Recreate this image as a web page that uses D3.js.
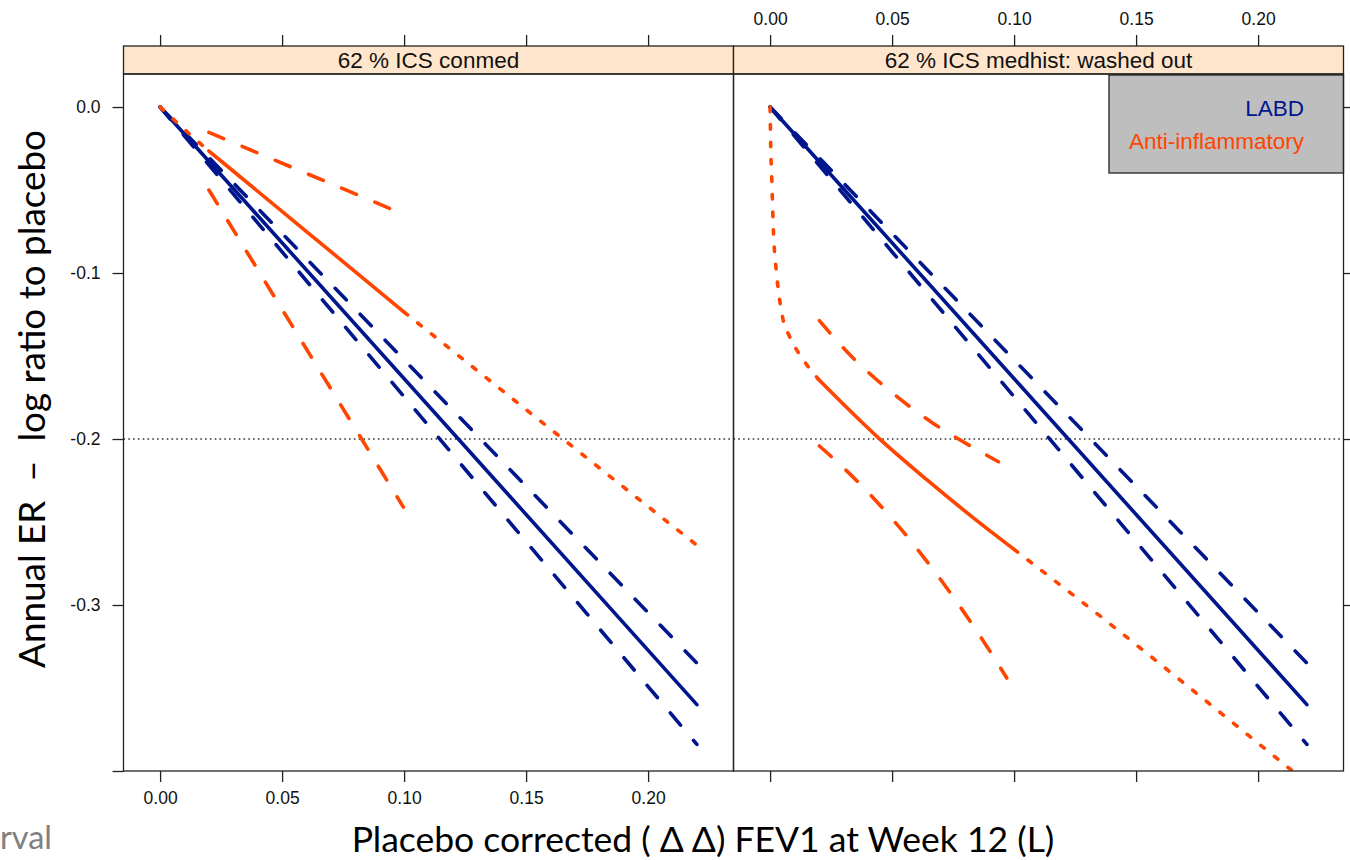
<!DOCTYPE html>
<html><head><meta charset="utf-8">
<script src="https://cdn.jsdelivr.net/npm/d3@7"></script>
<style>
body{margin:0;background:#fff;}
svg{display:block;}
</style></head><body>
<svg id="chart" width="1350" height="860"></svg>
<script>
// ---------------- data ----------------
const panelNames = ["62 % ICS conmed", "62 % ICS medhist: washed out"];
const xTicks = [0, 0.05, 0.10, 0.15, 0.20];
const xTickLabels = ["0.00", "0.05", "0.10", "0.15", "0.20"];
const yTicks = [0, -0.1, -0.2, -0.3];
const yTickLabels = ["0.0", "-0.1", "-0.2", "-0.3"];
const refY = -0.2;
const legendLabels = ["LABD", "Anti-inflammatory"];

// LABD (identical in both panels)
const labdX = [0, 0.22];
const labdFit = [0, -0.360];
const labdUpper = [0, -0.335];
const labdLower = [0, -0.384];

// Panel 1 - ICS conmed, anti-inflammatory
const conmedObsX = [0.02, 0.06, 0.10];
const conmedObsFit = [-0.0265, -0.075, -0.1235];
const conmedLowX = [0, 0.01, 0.02];
const conmedLowFit = [0, -0.0135, -0.0265];
const conmedHighX = [0.10, 0.16, 0.22];
const conmedHighFit = [-0.1235, -0.194, -0.264];
const conmedUpperX = [0.02, 0.094];
const conmedUpper = [-0.0153, -0.061];
const conmedLowerX = [0.02, 0.0997];
const conmedLower = [-0.050, -0.241];

// Panel 2 - ICS medhist washed out, anti-inflammatory
const washLowX = [0, 0.0002, 0.0007, 0.0014, 0.0025, 0.0041, 0.0053, 0.0079, 0.0116, 0.0157, 0.0198];
const washLowFit = [0, -0.020, -0.044, -0.076, -0.098, -0.118, -0.128, -0.138, -0.148, -0.1566, -0.164];
const washObsX = [0.0198, 0.0444, 0.0642, 0.0833, 0.10];
const washObsFit = [-0.164, -0.1993, -0.2245, -0.2475, -0.2665];
const washHighX = [0.10, 0.1407, 0.1687, 0.1967, 0.22];
const washHighFit = [-0.2665, -0.313, -0.346, -0.3793, -0.407];
const washUpperX = [0.0202, 0.0328, 0.043, 0.0546, 0.0663, 0.0779, 0.0936];
const washUpper = [-0.1287, -0.1494, -0.1634, -0.1775, -0.190, -0.2006, -0.2137];
const washLowerX = [0.0202, 0.0314, 0.0423, 0.0519, 0.0601, 0.0697, 0.0772, 0.0854, 0.097];
const washLower = [-0.2042, -0.2192, -0.2355, -0.2513, -0.2659, -0.2843, -0.2996, -0.3172, -0.344];

// ---------------- styles ----------------
const BLUE = "#00168c";
const ORANGE = "#ff4500";
const LW = 3.6;
const DASH = "16,20";
const DOT = "4.5,13";
const tickFont = "'Liberation Sans', Arial, Helvetica, sans-serif";
const titleFont = "Lato, 'Open Sans', sans-serif";

const zip = (xs, ys) => xs.map((x, i) => ({x, y: ys[i]}));

const panelSeries = [
  [
    {pts: zip(labdX, labdFit), color: BLUE, dash: null},
    {pts: zip(labdX, labdUpper), color: BLUE, dash: DASH},
    {pts: zip(labdX, labdLower), color: BLUE, dash: DASH},
    {pts: zip(conmedLowX, conmedLowFit), color: ORANGE, dash: DOT},
    {pts: zip(conmedObsX, conmedObsFit), color: ORANGE, dash: null},
    {pts: zip(conmedHighX, conmedHighFit), color: ORANGE, dash: DOT},
    {pts: zip(conmedUpperX, conmedUpper), color: ORANGE, dash: DASH},
    {pts: zip(conmedLowerX, conmedLower), color: ORANGE, dash: DASH}
  ],
  [
    {pts: zip(labdX, labdFit), color: BLUE, dash: null},
    {pts: zip(labdX, labdUpper), color: BLUE, dash: DASH},
    {pts: zip(labdX, labdLower), color: BLUE, dash: DASH},
    {pts: zip(washLowX, washLowFit), color: ORANGE, dash: DOT},
    {pts: zip(washObsX, washObsFit), color: ORANGE, dash: null},
    {pts: zip(washHighX, washHighFit), color: ORANGE, dash: DOT},
    {pts: zip(washUpperX, washUpper), color: ORANGE, dash: DASH},
    {pts: zip(washLowerX, washLower), color: ORANGE, dash: DASH}
  ]
];

// ---------------- layout ----------------
const svg = d3.select("#chart");
const panelLeft = [123.5, 733.5];
const panelW = 610;
const stripTop = 46, plotTop = 74, plotBottom = 771;
const xDomain = [-0.015, 0.235];
const yScale = d3.scaleLinear().domain([-0.4, 0.0199]).range([plotBottom, plotTop]);
const tickLen = 11;

const defs = svg.append("defs");

panelLeft.forEach((left, pi) => {
  const x = d3.scaleLinear().domain(xDomain).range([left, left + panelW]);
  const g = svg.append("g");

  defs.append("clipPath").attr("id", "clip" + pi)
    .append("rect").attr("x", left).attr("y", plotTop).attr("width", panelW).attr("height", plotBottom - plotTop);

  // strip
  g.append("rect").attr("x", left).attr("y", stripTop).attr("width", panelW).attr("height", plotTop - stripTop)
    .attr("fill", "#ffe5cc").attr("stroke", "#222").attr("stroke-width", 1.3);
  g.append("text").attr("x", left + panelW / 2).attr("y", 68)
    .attr("text-anchor", "middle").attr("font-family", tickFont).attr("font-size", 22.5)
    .attr("fill", "#111").text(panelNames[pi]);

  const plot = g.append("g").attr("clip-path", `url(#clip${pi})`);

  // reference line
  plot.append("line").attr("x1", left).attr("x2", left + panelW)
    .attr("y1", yScale(refY)).attr("y2", yScale(refY))
    .attr("stroke", "#333").attr("stroke-width", 1.3).attr("stroke-dasharray", "1.6,3.2");

  // series
  const line = d3.line().x(d => x(d.x)).y(d => yScale(d.y)).curve(d3.curveMonotoneX);
  panelSeries[pi].forEach(s => {
    plot.append("path").attr("d", line(s.pts)).attr("fill", "none")
      .attr("stroke", s.color).attr("stroke-width", LW)
      .attr("stroke-linecap", "round").attr("stroke-linejoin", "round")
      .attr("stroke-dasharray", s.dash);
  });

  // legend in panel 2
  if (pi === 1) {
    const lg = g.append("g");
    lg.append("rect").attr("x", 1109).attr("y", plotTop + 1).attr("width", left + panelW - 1109).attr("height", 98)
      .attr("fill", "#bebebe").attr("stroke", "#222").attr("stroke-width", 1.3);
    lg.selectAll("text").data(legendLabels).join("text")
      .attr("x", 1304).attr("y", (d, i) => 116 + i * 33)
      .attr("text-anchor", "end").attr("font-family", tickFont).attr("font-size", 22.5)
      .attr("fill", (d, i) => i === 0 ? BLUE : ORANGE).text(d => d);
  }

  // panel border
  g.append("rect").attr("x", left).attr("y", plotTop).attr("width", panelW).attr("height", plotBottom - plotTop)
    .attr("fill", "none").attr("stroke", "#222").attr("stroke-width", 1.3);

  // bottom axis ticks
  const bAxis = d3.axisBottom(x).tickValues(xTicks).tickSize(tickLen).tickPadding(10)
    .tickFormat((d, i) => pi === 0 ? xTickLabels[i] : "");
  const bg = svg.append("g").attr("transform", `translate(0,${plotBottom})`).call(bAxis);
  // top axis ticks
  const tAxis = d3.axisTop(x).tickValues(xTicks).tickSize(tickLen).tickPadding(10)
    .tickFormat((d, i) => pi === 1 ? xTickLabels[i] : "");
  const tg = svg.append("g").attr("transform", `translate(0,${stripTop})`).call(tAxis);
  [bg, tg].forEach(a => {
    a.select(".domain").remove();
    a.selectAll("line").attr("stroke", "#222").attr("stroke-width", 1.3);
    a.selectAll("text").attr("font-family", tickFont).attr("font-size", 17.5).attr("fill", "#111");
  });

  // y axis
  if (pi === 0) {
    const lAxis = d3.axisLeft(yScale).tickValues(yTicks.concat([-0.4])).tickSize(tickLen).tickPadding(12)
      .tickFormat(d => { const k = yTicks.indexOf(d); return k >= 0 ? yTickLabels[k] : ""; });
    const lg2 = svg.append("g").attr("transform", `translate(${left},0)`).call(lAxis);
    lg2.select(".domain").remove();
    lg2.selectAll("line").attr("stroke", "#222").attr("stroke-width", 1.3);
    lg2.selectAll("text").attr("font-family", tickFont).attr("font-size", 17.5).attr("fill", "#111");
  } else {
    const rAxis = d3.axisRight(yScale).tickValues(yTicks).tickSize(tickLen).tickFormat("");
    const rg = svg.append("g").attr("transform", `translate(${left + panelW},0)`).call(rAxis);
    rg.select(".domain").remove();
    rg.selectAll("line").attr("stroke", "#222").attr("stroke-width", 1.3);
  }
});

// ---------------- titles ----------------
function fitText(sel, target) {
  const len = sel.node().getComputedTextLength();
  const fs = parseFloat(sel.attr("font-size"));
  sel.attr("font-size", fs * target / len);
}

const xt = svg.append("text").attr("x", 703).attr("y", 852).attr("text-anchor", "middle")
  .attr("font-family", titleFont).attr("font-size", 34).attr("fill", "#000")
  .style("white-space", "pre")
  .text("Placebo corrected ( \u0394 \u0394) FEV1 at Week 12 (L)");
fitText(xt, 703);

const yt = svg.append("text").attr("transform", "translate(45,399) rotate(-90)").attr("text-anchor", "middle")
  .attr("font-family", titleFont).attr("font-size", 34).attr("fill", "#000")
  .style("white-space", "pre")
  .text("Annual ER  \u2013  log ratio to placebo");
fitText(yt, 538);

const rv = svg.append("text").attr("x", 0).attr("y", 849)
  .attr("font-family", titleFont).attr("font-size", 30).attr("fill", "#808080")
  .text("rval");
fitText(rv, 52);
</script>
</body></html>
